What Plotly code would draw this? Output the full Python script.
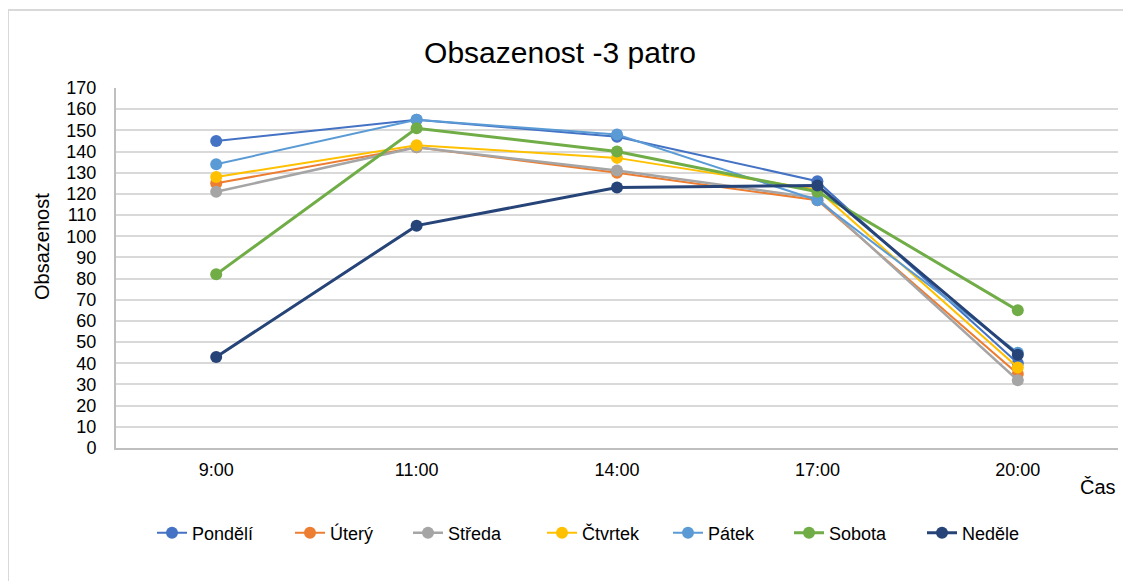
import plotly.graph_objects as go

# ── Data ──────────────────────────────────────────────────────────
TIMES = ["9:00", "11:00", "14:00", "17:00", "20:00"]

PONDELI = [145, 155, 147, 126, 40]
UTERY   = [125, 142, 130, 117, 35]
STREDA  = [121, 142, 131, 118, 32]
CTVRTEK = [128, 143, 137, 122, 38]
PATEK   = [134, 155, 148, 117, 45]
SOBOTA  = [82, 151, 140, 121, 65]
NEDELE  = [43, 105, 123, 124, 44]

SERIES = [
    ("Pondělí", PONDELI, "#4472C4", 2),
    ("Úterý",   UTERY,   "#ED7D31", 2),
    ("Středa",  STREDA,  "#A5A5A5", 2.5),
    ("Čtvrtek", CTVRTEK, "#FFC000", 2),
    ("Pátek",   PATEK,   "#5B9BD5", 2),
    ("Sobota",  SOBOTA,  "#70AD47", 3),
    ("Neděle",  NEDELE,  "#264478", 3),
]

# legend marker centres on the page (px), one legend box per series
LEGEND_X = [172, 310, 428, 562, 688, 809, 942]

FONT = "Liberation Sans, Arial, sans-serif"

# page body has an 8px margin, so the figure is sized/offset for that
W, H = 1123, 573
L, T, R, B = 108, 80, 13, 133
PW, PH = W - L - R, H - T - B

# ── Figure ────────────────────────────────────────────────────────
fig = go.Figure()
legends = {}
for i, (name, vals, color, w) in enumerate(SERIES):
    key = "legend" if i == 0 else f"legend{i + 1}"
    fig.add_trace(go.Scatter(
        x=TIMES, y=vals, name=name, mode="lines+markers",
        line=dict(color=color, width=w),
        marker=dict(size=12, color=color),
        legend=key,
    ))
    legends[key] = dict(
        orientation="h", xanchor="left", yanchor="middle",
        x=(LEGEND_X[i] - 8 - 20 - L) / PW, y=-(533 - 448) / PH,
        font=dict(size=18), itemwidth=30, bgcolor="rgba(0,0,0,0)",
    )

fig.update_layout(
    width=W, height=H,
    margin=dict(l=L, r=R, t=T, b=B, autoexpand=False),
    paper_bgcolor="white", plot_bgcolor="white",
    font=dict(family=FONT, size=18, color="#000000"),
    title=dict(text="Obsazenost -3 patro", x=(560 - 8) / W, xanchor="center",
               y=1 - (52 - 8) / H, yanchor="middle",
               font=dict(size=30, color="#000000")),
    xaxis=dict(
        type="category", range=[-0.5, 4.5], showgrid=False, showline=True,
        linecolor="#BFBFBF", linewidth=2, ticks="", ticklabelstandoff=4,
        tickfont=dict(size=18),
    ),
    yaxis=dict(
        range=[0, 170], dtick=10, showgrid=True, gridcolor="#D9D9D9",
        gridwidth=2, zeroline=False, showline=True, linecolor="#BFBFBF",
        linewidth=2, ticks="", ticklabelstandoff=14, tickfont=dict(size=18),
    ),
    showlegend=True,
    shapes=[dict(type="rect", xref="paper", yref="paper",
                 x0=(0 - L) / PW, x1=(W + 10 - L) / PW,
                 y0=-(B + 30) / PH, y1=1 + (T - 2) / PH,
                 line=dict(color="#D9D9D9", width=2))],
    annotations=[
        dict(text="Čas", xref="paper", yref="paper",
             x=1.0, xanchor="right", y=-(487 - 448) / PH, yanchor="middle",
             showarrow=False, font=dict(size=20)),
        dict(text="Obsazenost", xref="paper", yref="paper", textangle=-90,
             x=(42 - 116) / PW, xanchor="center", y=(448 - 247) / PH,
             yanchor="middle", showarrow=False, font=dict(size=20)),
    ],
    **legends,
)

fig.write_html("out.html")
